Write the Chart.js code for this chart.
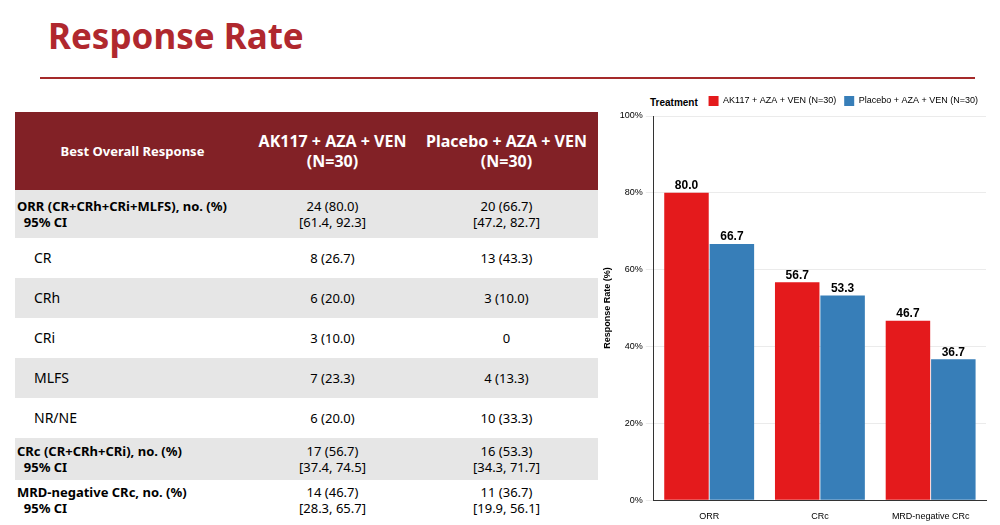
<!DOCTYPE html>
<html>
<head>
<meta charset="utf-8">
<script src="https://cdn.jsdelivr.net/npm/chart.js@4"></script>
<style>
  body { margin: 0; width: 1000px; height: 525px; background: #fff; position: relative; overflow: hidden; font-family: "Noto Sans", sans-serif; }
  #title { position: absolute; left: 48px; top: 12px; font-size: 35px; font-weight: bold; color: #b0282e; }
  #rule { position: absolute; left: 40px; top: 77px; width: 935px; height: 2px; background: #a52a2a; }
  table { position: absolute; left: 15px; top: 112px; width: 583px; border-collapse: collapse; font-size: 13px; color: #000; }
  td, th { padding: 0; }
  th { background: #822126; color: #fff; height: 78px; font-weight: bold; }
  th.c1 { font-size: 13px; }
  th.c2, th.c3 { font-size: 16px; line-height: 20px; }
  tr.g td { background: #e6e6e6; }
  td { height: 40px; text-align: center; line-height: 16px; }
  td.l { text-align: left; padding-left: 19px; font-size: 14px; }
  td.b { text-align: left; font-weight: bold; padding-left: 2px; }
  #chartbox { position: absolute; left: 598px; top: 88px; width: 400px; height: 437px; }
  #treat { position: absolute; left: 650px; top: 97px; font: bold 10px "Liberation Sans", Arial, sans-serif; }
</style>
</head>
<body>
<div id="title">Response Rate</div>
<div id="rule"></div>
<table>
  <tr><th class="c1" style="width:235px">Best Overall Response</th><th class="c2" style="width:165px">AK117 + AZA + VEN<br>(N=30)</th><th class="c3">Placebo + AZA + VEN<br>(N=30)</th></tr>
  <tr class="g"><td class="b" style="height:48px">ORR (CR+CRh+CRi+MLFS), no. (%)<br>&nbsp;&nbsp;95% CI</td><td>24 (80.0)<br>[61.4, 92.3]</td><td>20 (66.7)<br>[47.2, 82.7]</td></tr>
  <tr><td class="l">CR</td><td>8 (26.7)</td><td>13 (43.3)</td></tr>
  <tr class="g"><td class="l">CRh</td><td>6 (20.0)</td><td>3 (10.0)</td></tr>
  <tr><td class="l">CRi</td><td>3 (10.0)</td><td>0</td></tr>
  <tr class="g"><td class="l">MLFS</td><td>7 (23.3)</td><td>4 (13.3)</td></tr>
  <tr><td class="l">NR/NE</td><td>6 (20.0)</td><td>10 (33.3)</td></tr>
  <tr class="g"><td class="b" style="height:42px">CRc (CR+CRh+CRi), no. (%)<br>&nbsp;&nbsp;95% CI</td><td>17 (56.7)<br>[37.4, 74.5]</td><td>16 (53.3)<br>[34.3, 71.7]</td></tr>
  <tr><td class="b">MRD-negative CRc, no. (%)<br>&nbsp;&nbsp;95% CI</td><td>14 (46.7)<br>[28.3, 65.7]</td><td>11 (36.7)<br>[19.9, 56.1]</td></tr>
</table>
<div id="treat">Treatment</div>
<div id="chartbox"><canvas id="rateChart"></canvas></div>
<script>
var categories = ['ORR', 'CRc', 'MRD-negative CRc'];
var ak117Values = [80.0, 56.7, 46.7];
var placeboValues = [66.7, 53.3, 36.7];
var yTicks = [0, 20, 40, 60, 80, 100];

// draw value labels above bars
var barLabels = {
    id: 'barLabels',
    afterDatasetsDraw: function (chart) {
        var ctx = chart.ctx;
        ctx.save();
        ctx.font = 'bold 12px "Liberation Sans", Arial, sans-serif';
        ctx.fillStyle = '#000';
        ctx.textAlign = 'center';
        ctx.textBaseline = 'bottom';
        chart.data.datasets.forEach(function (ds, i) {
            chart.getDatasetMeta(i).data.forEach(function (bar, j) {
                ctx.fillText(ds.data[j].toFixed(1), bar.x, bar.y - 1);
            });
        });
        ctx.restore();
    }
};

var ctx = document.getElementById('rateChart').getContext('2d');
new Chart(ctx, {
    type: 'bar',
    data: {
        labels: categories,
        datasets: [
            { label: 'AK117 + AZA + VEN (N=30)', data: ak117Values, backgroundColor: '#e41a1c' },
            { label: 'Placebo + AZA + VEN (N=30)', data: placeboValues, backgroundColor: '#377eb8' }
        ]
    },
    options: {
        responsive: true,
        maintainAspectRatio: false,
        animation: false,
        layout: { padding: { left: 0, right: 12, top: 0, bottom: 0 } },
        datasets: { bar: { categoryPercentage: 0.82, barPercentage: 0.98 } },
        plugins: {
            legend: {
                align: 'end',
                labels: { boxWidth: 10, boxHeight: 10, font: { family: 'Liberation Sans', size: 9 }, color: '#000', padding: 8 }
            },
            tooltip: { enabled: false }
        },
        scales: {
            x: {
                grid: { display: false },
                border: { color: '#333' },
                ticks: { color: '#000', font: { family: 'Liberation Sans', size: 9 } }
            },
            y: {
                min: 0, max: 100,
                afterBuildTicks: function (axis) { axis.ticks = yTicks.map(function (v) { return { value: v }; }); },
                grid: { color: '#ebebeb' },
                border: { color: '#333' },
                title: { display: true, text: 'Response Rate (%)', color: '#000', font: { family: 'Liberation Sans', size: 9, weight: 'bold' } },
                ticks: { color: '#000', font: { family: 'Liberation Sans', size: 9 }, callback: function (v) { return v + '%'; } }
            }
        }
    },
    plugins: [barLabels]
});
</script>
</body>
</html>
